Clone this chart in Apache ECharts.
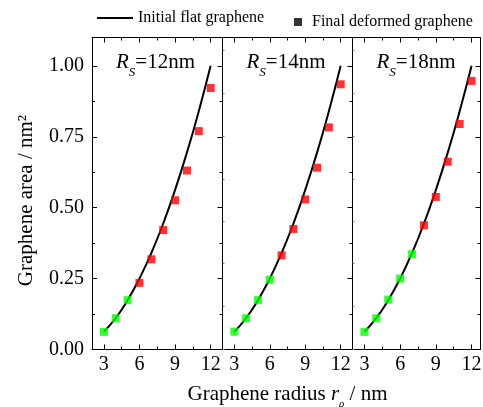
<!DOCTYPE html>
<html>
<head>
<meta charset="utf-8">
<script src="https://cdn.jsdelivr.net/npm/echarts@6/dist/echarts.min.js"></script>
<style>
  html, body { margin: 0; padding: 0; background: #fff; }
  #chart { width: 483px; height: 407px; }
</style>
</head>
<body>
<div id="chart"></div>
<script>
// graphene radius (nm)
const radius = [3, 4, 5, 6, 7, 8, 9, 10, 11, 12];
// initial flat graphene area (nm^2), same curve in every panel
const flatArea = [0.0625, 0.111, 0.174, 0.25, 0.340, 0.444, 0.5625, 0.694, 0.840, 1.0];
// final deformed graphene area for each substrate radius
const panelNames = ["12", "14", "18"];
const deformed12 = [0.062, 0.110, 0.174, 0.235, 0.318, 0.421, 0.526, 0.631, 0.770, 0.922];
const deformed14 = [0.063, 0.110, 0.174, 0.246, 0.332, 0.425, 0.529, 0.641, 0.783, 0.935];
const deformed18 = [0.062, 0.110, 0.176, 0.250, 0.336, 0.438, 0.538, 0.662, 0.795, 0.947];
const greenCount = [3, 4, 5];
const xMajor = [3, 6, 9, 12];
const xMinor = [4.5, 7.5, 10.5];
const ghostTicks = [0, 0.152, 0.303, 0.452, 0.599, 0.751, 0.904, 1.056];

const deformed = [deformed12, deformed14, deformed18];
const font = "Liberation Serif";
const black = "#000";

const grids = [
  { left: 92, width: 130.5, xMax: 13 },
  { left: 222.5, width: 130, xMax: 13 },
  { left: 352.5, width: 128, xMax: 12.75 }
];

const option = {
  animation: false,
  backgroundColor: "#fff",
  textStyle: { fontFamily: font, color: black },
  grid: grids.map(g => ({
    left: g.left, width: g.width, top: 37.5, bottom: 57.5,
    containLabel: false, outerBoundsMode: "none"
  })),
  legend: [
    {
      left: 97, top: 10, padding: 0, itemWidth: 36, itemHeight: 2,
      data: [{ name: "Initial flat graphene", icon: "rect", itemStyle: { color: black } }],
      textStyle: { fontFamily: font, fontSize: 16, color: black }
    },
    {
      left: 294, top: 14, padding: 0, itemWidth: 8, itemHeight: 8,
      data: [{ name: "Final deformed graphene", icon: "rect", itemStyle: { color: black } }],
      textStyle: { fontFamily: font, fontSize: 16, color: black, padding: [0, 0, 0, 5] }
    }
  ],
  xAxis: [],
  yAxis: [],
  series: [],
  graphic: []
};

grids.forEach((g, i) => {
  const base = { gridIndex: i, type: "value", min: 2, max: g.xMax, splitLine: { show: false } };
  const lineStyle = { color: black, width: 1 };
  ["bottom", "top"].forEach(pos => {
    const major = Object.assign({}, base, {
      position: pos,
      axisLine: { show: true, onZero: false, lineStyle },
      axisTick: { show: true, inside: true, length: 5, customValues: xMajor, lineStyle },
      axisLabel: {
        show: pos === "bottom", customValues: xMajor, margin: 5,
        fontFamily: font, fontSize: 20, color: black
      }
    });
    if (pos === "bottom" && i === 1) {
      major.name = "{n|Graphene radius }{i|r}{s|ρ}{n| / nm}";
      major.nameLocation = "middle";
      major.nameGap = 30;
      major.nameTextStyle = {
        rich: {
          n: { fontFamily: font, fontSize: 21, color: black, lineHeight: 30, verticalAlign: "middle" },
          i: { fontFamily: font, fontSize: 21, fontStyle: "italic", color: black, lineHeight: 30, verticalAlign: "middle" },
          s: { fontFamily: font, fontSize: 11, fontStyle: "italic", color: black, lineHeight: 30, verticalAlign: "bottom" }
        }
      };
    }
    option.xAxis.push(major);
    option.xAxis.push(Object.assign({}, base, {
      position: pos,
      axisLine: { show: false, onZero: false },
      axisTick: { show: true, inside: true, length: 3, customValues: xMinor, lineStyle },
      axisLabel: { show: false }
    }));
  });

  const ybase = { gridIndex: i, type: "value", min: 0, max: 1.1, interval: 0.25, splitLine: { show: false } };
  const left = Object.assign({}, ybase, {
    position: "left",
    axisLine: { show: true, onZero: false, lineStyle },
    axisTick: { show: true, inside: true, length: 5, lineStyle },
    minorTick: { show: true, splitNumber: 2, length: 3, lineStyle },
    axisLabel: {
      show: i === 0, margin: 8, showMaxLabel: false,
      formatter: v => v.toFixed(2), fontFamily: font, fontSize: 20, color: black
    }
  });
  if (i > 0) {
    // faint ticks left on the panel dividers
    left.axisTick = { show: true, inside: true, length: 2, customValues: ghostTicks, lineStyle: { color: "#777", width: 1 } };
    left.minorTick = { show: false };
  } else {
    left.name = "Graphene area / nm²";
    left.nameLocation = "middle";
    left.nameGap = 55;
    left.nameTextStyle = { fontFamily: font, fontSize: 21, color: black, padding: [0, 14, 0, 0] };
  }
  option.yAxis.push(left);
  option.yAxis.push(Object.assign({}, ybase, {
    position: "right",
    axisLine: { show: true, onZero: false, lineStyle },
    axisTick: { show: true, inside: true, length: 5, lineStyle },
    minorTick: { show: true, splitNumber: 2, length: 3, lineStyle },
    axisLabel: { show: false }
  }));

  option.series.push({
    name: "Initial flat graphene",
    type: "line",
    xAxisIndex: i * 4,
    yAxisIndex: i * 2,
    data: radius.map((r, k) => [r, flatArea[k]]),
    smooth: true,
    symbol: "none",
    color: black,
    lineStyle: { color: black, width: 2 },
    z: 2
  });
  option.series.push({
    name: "Final deformed graphene",
    type: "scatter",
    xAxisIndex: i * 4,
    yAxisIndex: i * 2,
    symbol: "rect",
    symbolSize: 8,
    data: radius.map((r, k) => ({
      value: [r, deformed[i][k]],
      itemStyle: { color: k < greenCount[i] ? "#00ff00" : "#ff0000" }
    })),
    z: 3
  });

  option.graphic.push({
    type: "text",
    left: g.left + 24,
    top: 52,
    style: {
      text: "{i|R}{s|S}{n|=" + panelNames[i] + "nm}",
      rich: {
        i: { fontFamily: font, fontSize: 21, fontStyle: "italic", fill: black, lineHeight: 34, verticalAlign: "middle" },
        s: { fontFamily: font, fontSize: 13, fontStyle: "italic", fill: black, lineHeight: 34, verticalAlign: "bottom" },
        n: { fontFamily: font, fontSize: 21, fill: black, lineHeight: 34, verticalAlign: "middle" }
      }
    }
  });
});

const chart = echarts.init(document.getElementById("chart"));
chart.setOption(option);
</script>
</body>
</html>
